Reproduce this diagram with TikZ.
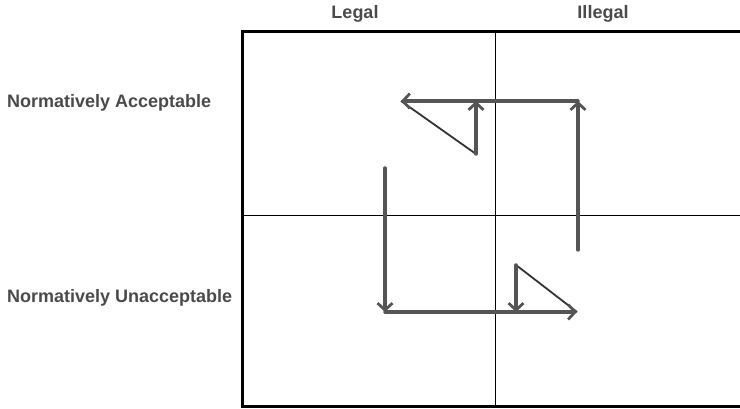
\documentclass[tikz,border=0pt]{standalone}
\usepackage{fontspec}
\setmainfont{Liberation Sans}
\usetikzlibrary{arrows.meta}
\definecolor{arrowgray}{HTML}{555555}
\definecolor{textgray}{HTML}{4A4A4A}
\tikzset{
  lbl/.style={font=\bfseries\fontsize{18}{21}\selectfont, text=textgray, inner sep=0pt},
  flow/.style={draw=arrowgray, line width=3.5pt, line cap=round, -{Straight Barb[length=7pt,width=15pt,line width=2.8pt]}},
  diag/.style={draw=black!80, line width=1.8pt},
  frame/.style={draw=black, line width=3pt},
  divider/.style={draw=black, line width=1.5pt}
}
\begin{document}
\begin{tikzpicture}[x=1pt,y=-1pt]
\useasboundingbox (0,0) rectangle (740,409);
\clip (0,0) rectangle (740,409);
% grid
\draw[divider] (495.5,32) -- (495.5,406);
\draw[divider] (242,215.5) -- (745,215.5);
\draw[frame] (242,32) rectangle (760,406);
% labels
\node[lbl] (legal) at (355,14) {Legal};
\node[lbl] (illegal) at (603,14) {Illegal};
\node[lbl, anchor=west] (acc) at (7,103) {Normatively Acceptable};
\node[lbl, anchor=west] (unacc) at (7,298) {Normatively Unacceptable};
% coordinates
\coordinate (r0) at (578,250);
\coordinate (r1) at (578,101);
\coordinate (tl) at (401,101);
\coordinate (tv0) at (476,154);
\coordinate (tv1) at (476,101);
\coordinate (l0) at (385,168);
\coordinate (l1) at (385,312);
\coordinate (br) at (577,312);
\coordinate (bv0) at (516,265);
\coordinate (bv1) at (516,312);
% top arrows
\draw[diag] (tl) -- (tv0);
\draw[flow] (tv0) -- (tv1);
\draw[flow] (r0) -- (r1);
\draw[flow] (r1) -- (tl);
% bottom arrows
\draw[diag] (bv0) -- (br);
\draw[flow] (bv0) -- (bv1);
\draw[flow] (l0) -- (l1);
\draw[flow] (l1) -- (br);
\end{tikzpicture}
\end{document}
